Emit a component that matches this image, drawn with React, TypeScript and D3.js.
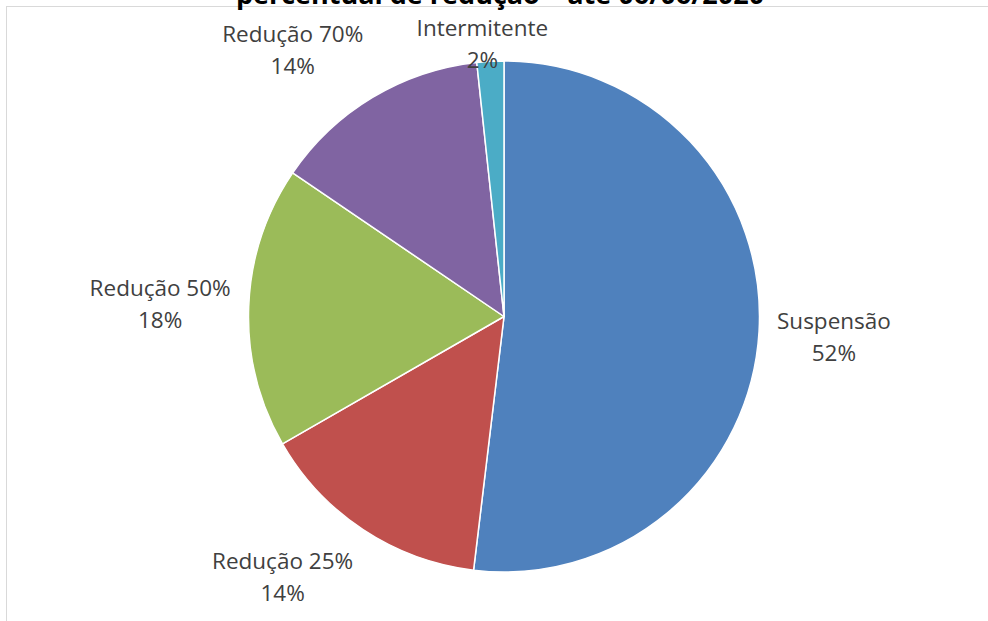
import React, { useEffect, useRef } from "react";
import * as d3 from "d3";

const titleText = "percentual de redução – até 06/06/2020";
const categories = ["Suspensão", "Redução 25%", "Redução 50%", "Redução 70%", "Intermitente"];
const values = [51.9, 14.8, 17.8, 13.8, 1.7];
const percentLabels = ["52%", "14%", "18%", "14%", "2%"];
const colors = ["#4F81BD", "#C0504D", "#9BBB59", "#8064A2", "#4BACC6"];

const W = 988;
const H = 621;

export default function App() {
  const ref = useRef<SVGSVGElement | null>(null);

  useEffect(() => {
    const svg = d3.select(ref.current);
    svg.selectAll("*").remove();

    svg.append("rect").attr("x", 0).attr("y", 0).attr("width", W).attr("height", H).attr("fill", "#ffffff");

    // chart frame
    svg
      .append("rect")
      .attr("x", 6.5)
      .attr("y", 6.5)
      .attr("width", W + 20)
      .attr("height", H + 20)
      .attr("fill", "none")
      .attr("stroke", "#d9d9d9")
      .attr("stroke-width", 1);

    svg
      .append("text")
      .attr("x", 500)
      .attr("y", 4)
      .attr("text-anchor", "middle")
      .attr("font-family", "'Open Sans', sans-serif")
      .attr("font-weight", "bold")
      .attr("font-size", 27)
      .attr("fill", "#000")
      .text(titleText);

    const cx = 504;
    const cy = 316.5;
    const R = 255.5;

    const pie = d3.pie<number>().sort(null).value((d) => d);
    const arcs = pie(values);
    const arc = d3.arc<d3.PieArcDatum<number>>().innerRadius(0).outerRadius(R);

    const g = svg.append("g").attr("transform", `translate(${cx},${cy})`);
    g.selectAll("path")
      .data(arcs)
      .join("path")
      .attr("d", arc as any)
      .attr("fill", (_d, i) => colors[i])
      .attr("stroke", "#ffffff")
      .attr("stroke-width", 1.5)
      .attr("stroke-linejoin", "round");

    const gap = 18;
    const lineH = 32;
    const lbl = svg.append("g");
    arcs.forEach((a, i) => {
      const t = lbl
        .append("text")
        .attr("text-anchor", "middle")
        .attr("font-family", "'Open Sans', sans-serif")
        .attr("font-size", 22.5)
        .attr("fill", "#404040");
      const t1 = t.append("tspan").attr("dominant-baseline", "central").text(categories[i]);
      const t2 = t.append("tspan").attr("dominant-baseline", "central").text(percentLabels[i]);
      const w = Math.max(
        (t1.node() as SVGTSpanElement).getComputedTextLength(),
        (t2.node() as SVGTSpanElement).getComputedTextLength()
      );
      const h = lineH * 2;
      const mid = (a.startAngle + a.endAngle) / 2;
      const s = Math.sin(mid);
      const c = Math.cos(mid);
      const px = cx + (R + gap) * s;
      const py = cy - (R + gap) * c;
      const kx = Math.max(-1, Math.min(1, s * 2));
      const ky = Math.max(-1, Math.min(1, -c * 2));
      let bx = px + (kx * w) / 2;
      let by = py + (ky * h) / 2;
      let top = by - h / 2;
      if (top < 11) top = 11;
      if (top + h > H) top = H - h;
      bx = Math.max(10 + w / 2, Math.min(W - 10 - w / 2, bx));
      t1.attr("x", bx).attr("y", top + lineH / 2);
      t2.attr("x", bx).attr("y", top + lineH / 2 + lineH);
    });
  }, []);

  return (
    <svg
      ref={ref}
      width={W}
      height={H}
      style={{ position: "absolute", left: 0, top: 0, display: "block" }}
    />
  );
}
